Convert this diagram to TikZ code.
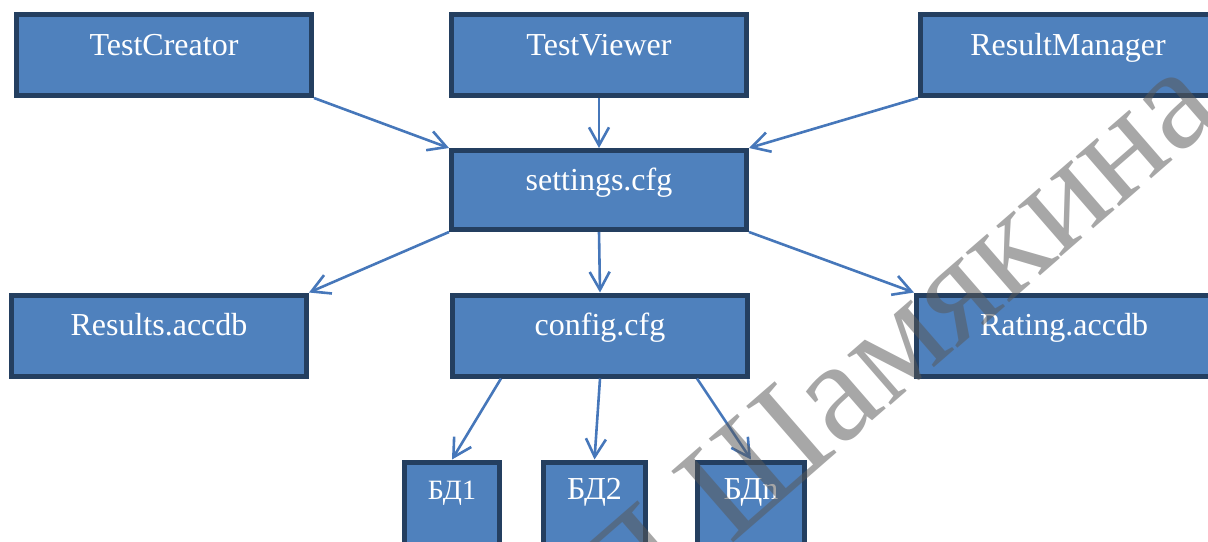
\documentclass[tikz,border=0pt]{standalone}
\usepackage{fontspec}
\setmainfont{Liberation Serif}
\usetikzlibrary{arrows.meta,calc}

\definecolor{boxfill}{HTML}{4F81BD}
\definecolor{boxline}{HTML}{243F60}
\definecolor{linkblue}{HTML}{4677BA}
\definecolor{markgray}{RGB}{88,88,88}

\tikzset{
  modbox/.style={draw=boxline, line width=2.5pt, fill=boxfill, text=white,
    font=\fontsize{16pt}{19pt}\selectfont, inner sep=0pt,
    minimum width=147.5pt, minimum height=40.5pt,
    text height=8pt, text depth=8pt},
  dbbox/.style={modbox, minimum height=0pt, anchor=north,
    text height=18.75pt, text depth=35pt},
  link/.style={draw=linkblue, line width=1.3pt,
    -{Straight Barb[length=9pt,width=10pt,line width=1.3pt]}},
  stamp/.style={text=markgray, opacity=0.53, rotate=41,
    font=\fontsize{72pt}{80pt}\selectfont, inner sep=0pt}
}

\begin{document}
\begin{tikzpicture}[x=0.5pt, y=-0.5pt]
\useasboundingbox (0,0) rectangle (1208,541);
\clip (0,0) rectangle (1208,541);

% top row of programs
\node[modbox] (creator) at (164,55) {TestCreator};
\node[modbox] (viewer)  at (599,55) {TestViewer};
\node[modbox] (manager) at (1068,55) {ResultManager};

% shared settings file
\node[modbox, minimum height=39.5pt] (settings) at (599,190) {settings.cfg};

% data files
\node[modbox] (results) at (159,335.5) {Results.accdb};
\node[modbox] (config)  at (600,335.5) {config.cfg};
\node[modbox] (rating)  at (1064,335.5) {Rating.accdb};

% databases
\node[dbbox, minimum width=47.5pt, font=\fontsize{14pt}{16pt}\selectfont] (db1) at (452,459.5) {БД1};
\node[dbbox, minimum width=51pt]   (db2) at (594.5,459.5) {БД2};
\node[dbbox, minimum width=53.5pt] (dbn) at (751,459.5) {БДn};

% connectors
\draw[link] (creator.south east) -- (settings.north west);
\draw[link] (viewer.south) -- (settings.north);
\draw[link] (manager.south west) -- (settings.north east);
\draw[link] (settings.south west) -- (results.north east);
\draw[link] (settings.south) -- (config.north);
\draw[link] (settings.south east) -- (rating.north west);
\draw[link] ([xshift=-49.5pt]config.south) -- (db1.north);
\draw[link] (config.south) -- (db2.north);
\draw[link] ([xshift=48.5pt]config.south) -- (dbn.north);

% repository stamp across the page
\coordinate (stampbase) at (730,545.5);
\node[stamp, anchor=base east] (stampinit) at (stampbase) {П.};
\node[stamp, anchor=base west] (stampname) at (stampbase) {Шамякина};
\end{tikzpicture}
\end{document}
